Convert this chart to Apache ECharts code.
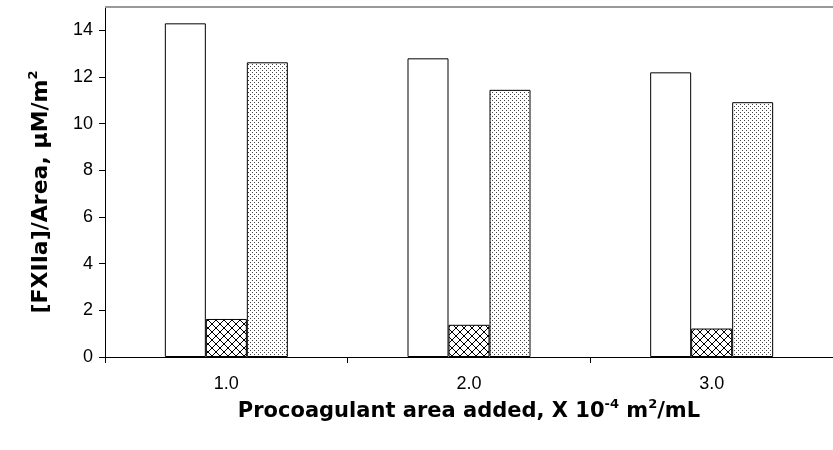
<!DOCTYPE html>
<html>
<head>
<meta charset="utf-8">
<script src="https://cdn.jsdelivr.net/npm/echarts@6/dist/echarts.min.js"></script>
<style>
html,body{margin:0;padding:0;background:#fff;}
#chart{width:833px;height:450px;}
</style>
</head>
<body>
<div id="chart"></div>
<script>
const categories = ['1.0', '2.0', '3.0'];
const openValues = [14.3, 12.8, 12.2];
const hatchValues = [1.63, 1.38, 1.22];
const dotValues = [12.63, 11.45, 10.92];
const yTicks = [0, 2, 4, 6, 8, 10, 12, 14];

function makeHatch() {
  const c = document.createElement('canvas');
  c.width = 8; c.height = 8;
  const g = c.getContext('2d');
  g.fillStyle = '#fff'; g.fillRect(0, 0, 8, 8);
  g.strokeStyle = '#000'; g.lineWidth = 1;
  g.beginPath();
  g.moveTo(0, 0); g.lineTo(8, 8);
  g.moveTo(8, 0); g.lineTo(0, 8);
  g.stroke();
  return c;
}
function makeDots() {
  const c = document.createElement('canvas');
  c.width = 4; c.height = 4;
  const g = c.getContext('2d');
  g.fillStyle = '#fff'; g.fillRect(0, 0, 4, 4);
  g.fillStyle = '#444';
  g.fillRect(0, 0, 1, 1);
  g.fillRect(2, 2, 1, 1);
  return c;
}

const chart = echarts.init(document.getElementById('chart'), null, {renderer: 'canvas'});
const tickFont = '"Liberation Sans", Arial, sans-serif';
const titleFont = '"DejaVu Sans", "Liberation Sans", sans-serif';
const barStyle = (color) => ({color: color, borderColor: '#000', borderWidth: 1});
const makeRich = (size, sup) => ({
  t: {fontSize: size, fontWeight: 'bold', fontFamily: titleFont, color: '#000', lineHeight: 26},
  s: {fontSize: sup, fontWeight: 'bold', fontFamily: titleFont, color: '#000', lineHeight: 26, padding: [0, 0, 14, 0]}
});

chart.setOption({
  animation: false,
  backgroundColor: '#fff',
  grid: {left: 105, top: 7, width: 735, height: 350, containLabel: false},
  xAxis: {
    type: 'category',
    data: categories,
    axisLine: {lineStyle: {color: '#000', width: 1}},
    axisTick: {show: true, alignWithLabel: false, length: 6, lineStyle: {color: '#000'}},
    axisLabel: {color: '#000', fontSize: 18, fontFamily: tickFont, margin: 18},
    name: '{t|Procoagulant area added, X 10}{s|-4}{t| m}{s|2}{t|/mL}',
    nameLocation: 'middle',
    nameGap: 42,
    nameTextStyle: {rich: makeRich(21, 13)}
  },
  yAxis: {
    type: 'value',
    min: 0, max: 15, interval: 2,
    splitLine: {show: false},
    axisLine: {show: true, lineStyle: {color: '#000', width: 1}},
    axisTick: {show: true, length: 6, lineStyle: {color: '#000'}},
    axisLabel: {color: '#000', fontSize: 18, fontFamily: tickFont, margin: 12, showMaxLabel: false,
      formatter: (v) => yTicks.includes(v) ? String(v) : ''},
    name: '{t|[FXIIa]/Area, μM/m}{s|2}',
    nameLocation: 'middle',
    nameGap: 51,
    nameRotate: 90,
    nameTextStyle: {rich: makeRich(22, 13), padding: [0, 20, 0, 0]}
  },
  graphic: [{
    type: 'line',
    shape: {x1: 105, y1: 7, x2: 833, y2: 7},
    style: {stroke: '#999', lineWidth: 2},
    z: 10
  }],
  series: [
    {type: 'bar', data: openValues, barWidth: 41, barGap: '0%', itemStyle: barStyle('#fff')},
    {type: 'bar', data: hatchValues, barWidth: 41, barGap: '0%', itemStyle: barStyle({image: makeHatch(), repeat: 'repeat'})},
    {type: 'bar', data: dotValues, barWidth: 41, barGap: '0%', itemStyle: barStyle({image: makeDots(), repeat: 'repeat'})}
  ]
});
</script>
</body>
</html>
